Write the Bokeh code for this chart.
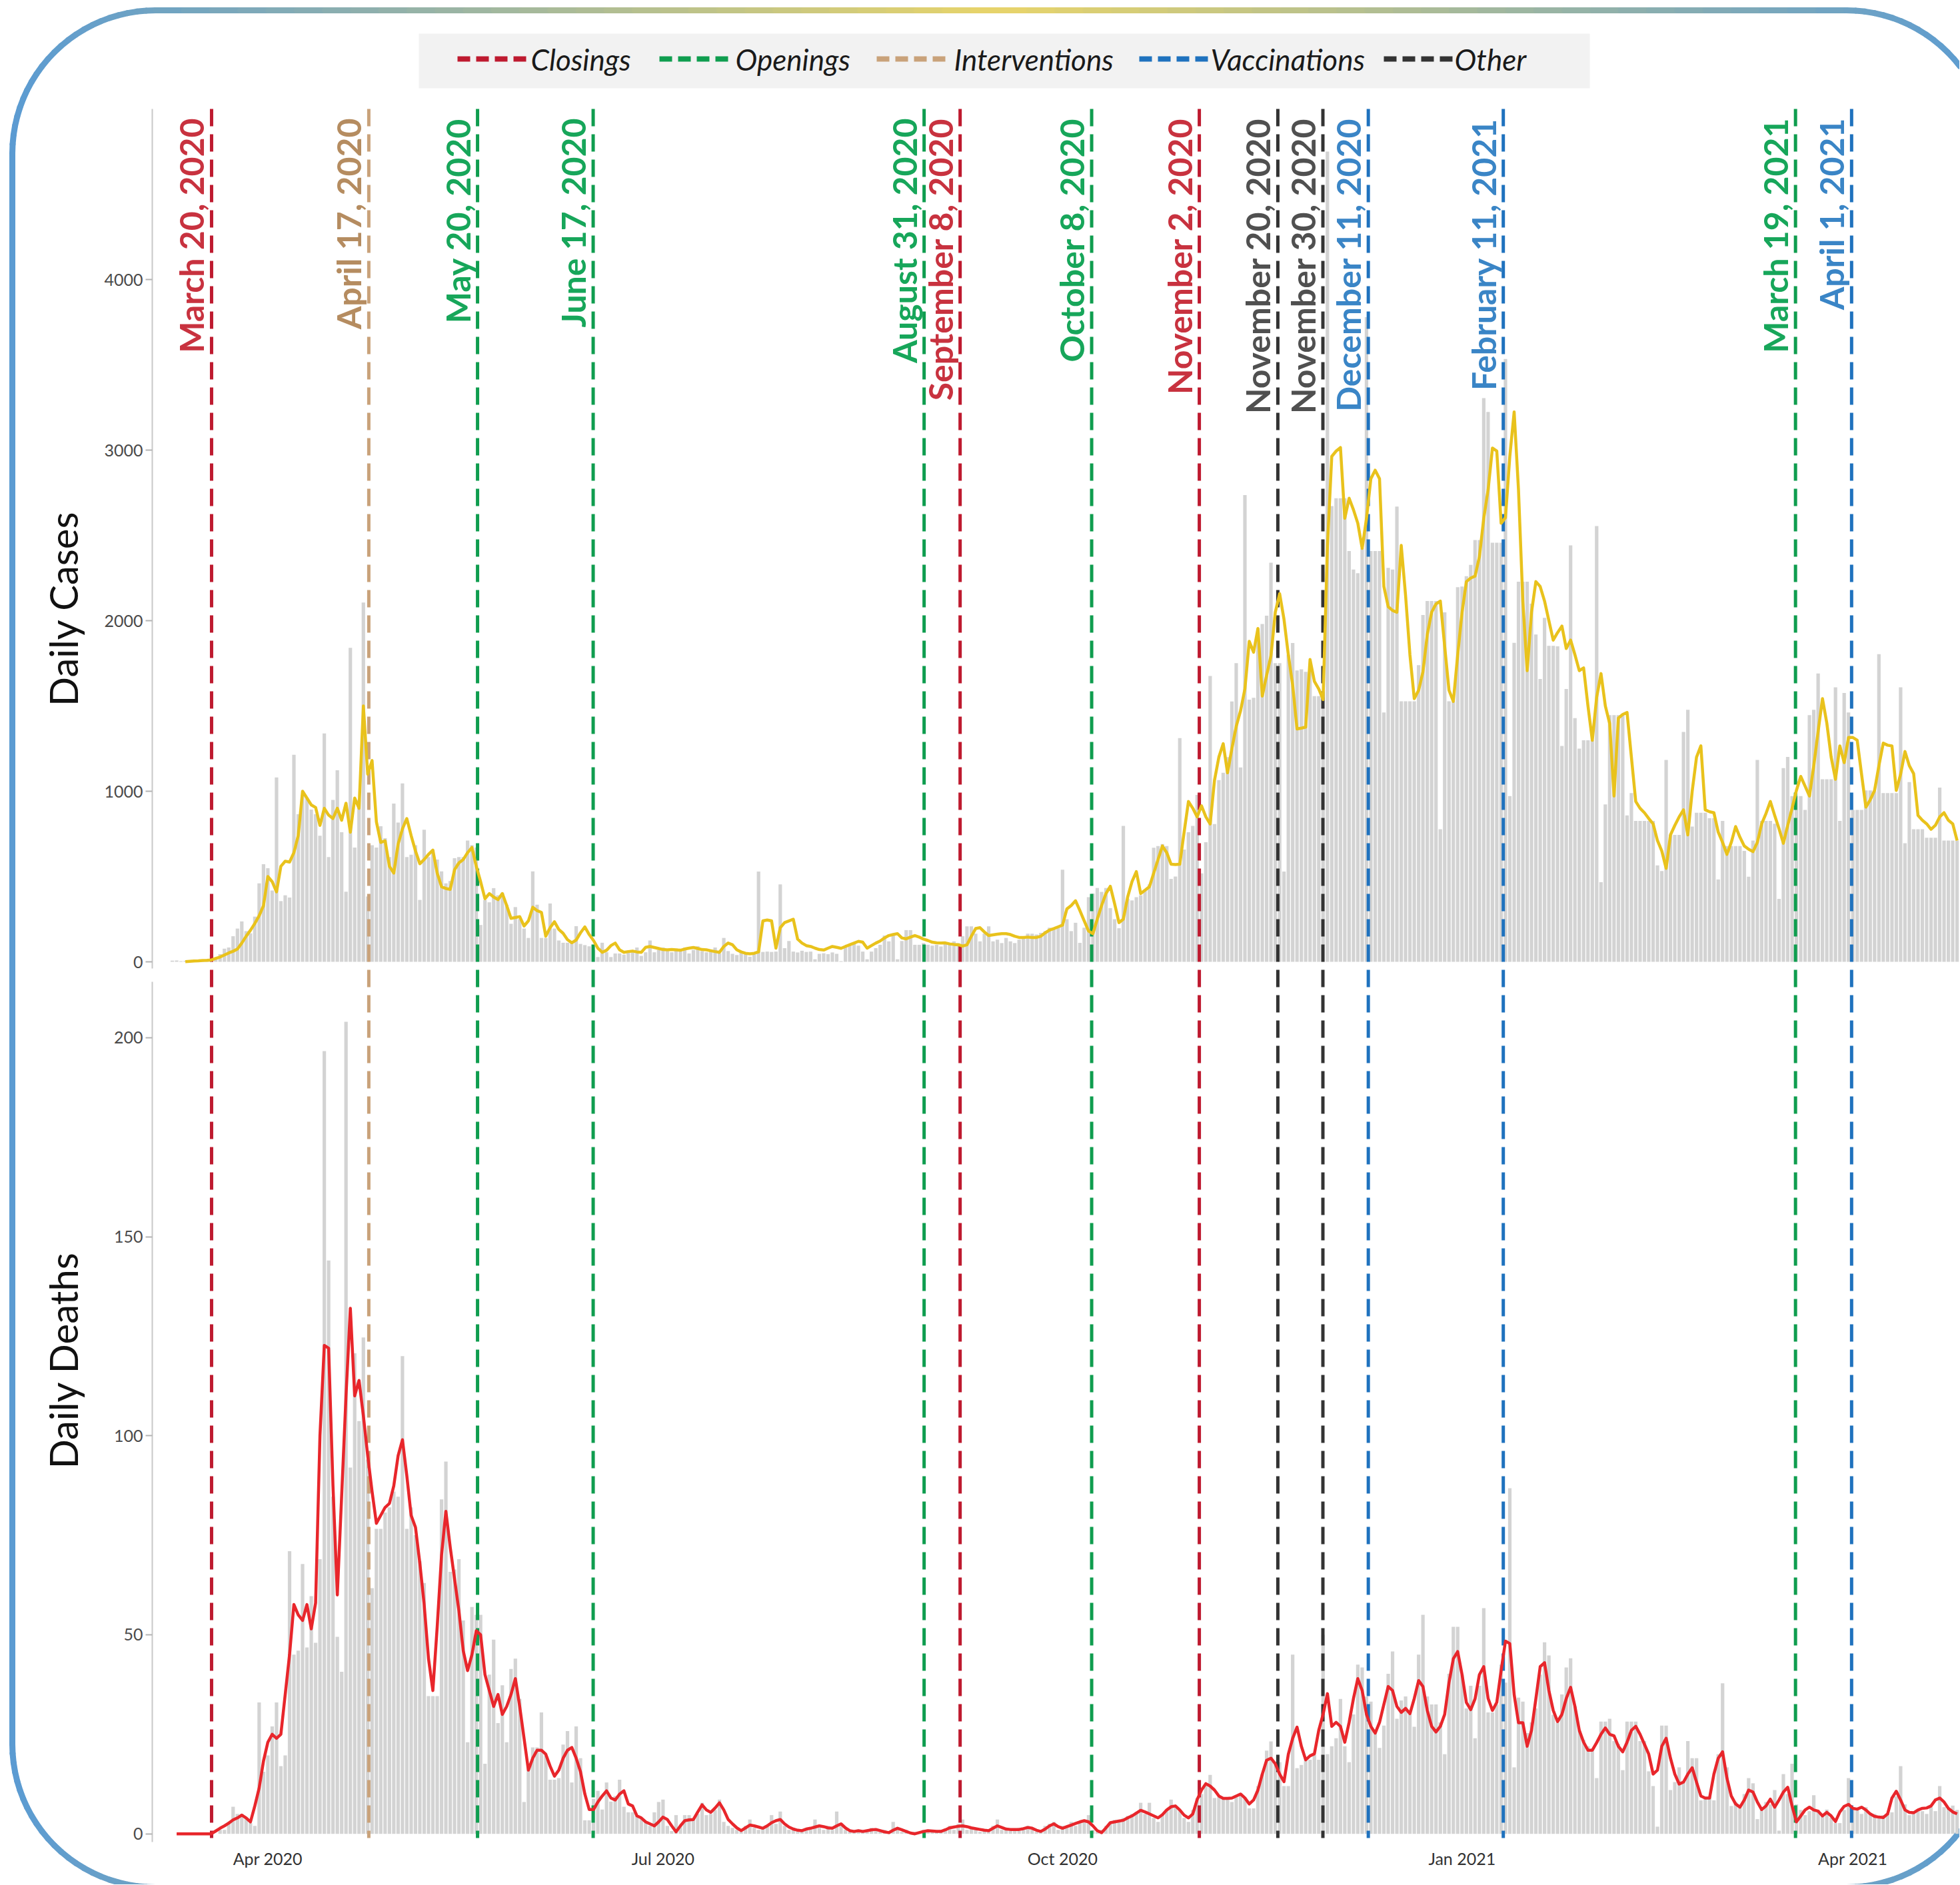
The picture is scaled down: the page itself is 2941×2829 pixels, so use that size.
import math
import pandas as pd
from bokeh.plotting import figure
from bokeh.models import (Range1d, LinearAxis, DatetimeAxis, FixedTicker,
                          DatetimeTickFormatter)
from bokeh.core.properties import value
from bokeh.embed import file_html
from bokeh.resources import INLINE

# ----------------------------------------------------------------- data
cases_start = "2020-03-10"
daily_cases = [
    7, 8, 4, 6, 10, 5, 12, 8, 15, 42,
    25, 45, 77, 84, 150, 195, 237, 180, 167, 265,
    460, 572, 549, 418, 1081, 356, 390, 377, 1214, 865,
    977, 963, 893, 865, 739, 1339, 614, 949, 1123, 760,
    411, 1841, 670, 949, 2106, 383, 684, 670, 795, 725,
    614, 928, 816, 1046, 614, 628, 684, 363, 774, 614,
    656, 600, 530, 460, 474, 607, 614, 614, 711, 684,
    670, 216, 363, 349, 432, 390, 405, 335, 223, 321,
    251, 195, 140, 530, 335, 140, 140, 342, 195, 125,
    112, 112, 112, 209, 105, 98, 91, 70, 28, 112,
    56, 28, 49, 49, 42, 63, 56, 84, 35, 56,
    125, 56, 70, 84, 63, 56, 77, 70, 84, 49,
    70, 91, 63, 56, 70, 84, 49, 140, 63, 47,
    40, 55, 47, 30, 50, 529, 58, 60, 58, 60,
    454, 80, 122, 60, 55, 65, 58, 60, 15, 47,
    50, 45, 55, 47, 4, 90, 100, 110, 95, 60,
    15, 60, 80, 100, 154, 120, 154, 15, 122, 186,
    186, 100, 100, 110, 100, 95, 100, 90, 110, 100,
    120, 110, 150, 208, 208, 165, 120, 165, 208, 120,
    130, 110, 140, 120, 110, 130, 150, 165, 165, 160,
    170, 180, 200, 200, 205, 540, 250, 180, 229, 111,
    200, 379, 400, 433, 410, 433, 315, 250, 197, 797,
    369, 360, 379, 390, 420, 454, 669, 679, 690, 679,
    486, 500, 1312, 658, 760, 797, 979, 519, 701, 1676,
    808, 1065, 1108, 1200, 1526, 1751, 1140, 2736, 1537, 1548,
    1954, 1980, 2029, 2340, 1751, 1751, 529, 1800, 1869, 1708,
    1715, 1700, 1708, 1558, 1558, 1550, 4750, 2672, 2718, 2718,
    2718, 2408, 2300, 2278, 2424, 3779, 2408, 2408, 2408, 1462,
    2310, 2300, 2669, 1527, 1527, 1527, 1527, 1739, 2033, 2115,
    2115, 2115, 777, 2049, 1527, 1527, 2196, 2200, 2261, 2327,
    2473, 2473, 3305, 3224, 2457, 2457, 2457, 3534, 972, 1870,
    2229, 2229, 2229, 2100, 1919, 1658, 2017, 1853, 1853, 1850,
    1266, 1600, 2441, 1429, 1250, 1299, 1299, 1299, 2555, 467,
    923, 1446, 1446, 1446, 1446, 858, 989, 826, 826, 826,
    826, 826, 565, 532, 1184, 744, 744, 744, 1348, 1478,
    793, 874, 874, 874, 842, 842, 483, 826, 679, 679,
    679, 679, 650, 499, 711, 1184, 826, 826, 826, 810,
    369, 1136, 1201, 972, 972, 972, 891, 1446, 1478, 1690,
    1070, 1070, 1070, 1609, 826, 1576, 1462, 891, 891, 891,
    1005, 1005, 1000, 1804, 989, 989, 989, 989, 1609, 695,
    1054, 777, 777, 777, 728, 728, 728, 1021, 711, 711,
    711, 711,
]

cases_avg_start = "2020-03-13"
cases_avg = [
    1, 3, 5, 6, 8, 9, 11,
    20, 28, 40, 52, 62, 75, 110, 150, 185, 225,
    270, 330, 500, 470, 410, 560, 590, 585, 640, 740,
    1000, 960, 920, 905, 800, 900, 860, 840, 900, 830,
    930, 760, 960, 900, 1500, 1100, 1180, 820, 700, 710,
    560, 520, 690, 780, 840, 740, 650, 575, 600, 630,
    655, 520, 440, 430, 425, 540, 580, 600, 640, 670,
    560, 470, 370, 400, 380, 365, 400, 330, 255, 260,
    265, 210, 240, 320, 300, 290, 150, 200, 235, 190,
    167, 130, 112, 128, 170, 205, 160, 125, 80, 56,
    68, 95, 110, 70, 56, 60, 63, 58, 56, 85,
    90, 84, 78, 72, 70, 72, 70, 68, 75, 80,
    84, 78, 72, 70, 65, 60, 56, 90, 110, 100,
    70, 58, 50, 47, 50, 58, 240, 245, 240, 80,
    200, 230, 240, 250, 133, 110, 95, 90, 80, 72,
    69, 80, 90, 85, 79, 90, 100, 110, 120, 115,
    80, 95, 110, 122, 140, 154, 160, 165, 140, 135,
    145, 154, 145, 133, 125, 115, 111, 110, 111, 105,
    102, 100, 92, 100, 150, 195, 200, 175, 154, 158,
    162, 165, 165, 160, 150, 143, 143, 145, 143, 143,
    150, 170, 186, 195, 205, 215, 310, 330, 358, 300,
    240, 180, 165, 250, 330, 400, 443, 340, 230, 250,
    380, 470, 529, 400, 420, 440, 520, 600, 679, 640,
    572, 570, 572, 760, 940, 900, 850, 915, 850, 808,
    1065, 1200, 1279, 1108, 1250, 1380, 1472, 1600, 1879, 1815,
    1954, 1558, 1680, 1794, 2050, 2158, 2008, 1800, 1622, 1365,
    1370, 1376, 1772, 1644, 1600, 1537, 2437, 2963, 2994, 3015,
    2600, 2718, 2650, 2571, 2424, 2600, 2832, 2882, 2832, 2200,
    2082, 2060, 2049, 2441, 2147, 1800, 1543, 1592, 1700, 1919,
    2050, 2098, 2115, 1850, 1592, 1527, 1800, 2049, 2229, 2250,
    2261, 2375, 2600, 2767, 3012, 2995, 2571, 2604, 2963, 3224,
    2767, 2115, 1707, 2049, 2229, 2200, 2115, 2000, 1886, 1930,
    1968, 1837, 1886, 1800, 1707, 1723, 1500, 1299, 1550, 1690,
    1500, 1397, 972, 1429, 1450, 1462, 1200, 940, 900, 874,
    840, 809, 711, 650, 548, 744, 800, 850, 891, 744,
    1000, 1200, 1266, 891, 880, 874, 760, 700, 630, 700,
    793, 730, 679, 660, 646, 700, 809, 870, 940, 858,
    780, 695, 800, 900, 1005, 1087, 1030, 972, 1150, 1350,
    1543, 1400, 1200, 1070, 1266, 1168, 1315, 1315, 1299, 1100,
    907, 950, 1005, 1150, 1282, 1270, 1266, 1005, 1100, 1233,
    1150, 1103, 858, 830, 809, 777, 800, 850, 874, 830,
    809, 711,
]

deaths_start = "2020-03-10"
daily_deaths = [
    0, 0, 0, 0, 0, 0, 0, 0, 0, 0,
    0, 1, 1, 3, 6.8, 5, 5, 4, 2.7, 2,
    33, 15.6, 19.7, 27, 33, 17, 19.7, 71, 45, 46,
    67.8, 46.8, 59.7, 48, 69, 196.6, 144, 84.7, 49.5, 40.7,
    204, 92, 120.7, 103.7, 124.7, 94, 61.7, 76.6, 76.6, 80.7,
    82, 86, 84.7, 120, 76.6, 82, 75, 68.5, 63, 34.6,
    34.6, 34.6, 84, 93.5, 65.8, 66.4, 69, 53.6, 23, 57,
    55, 55, 17.6, 40, 48.8, 27.8, 37.3, 23, 41.4, 44,
    33.9, 8, 17.6, 21.7, 21.7, 30.5, 19.7, 13.6, 13.6, 14,
    22.4, 25.8, 12.9, 27, 19, 3.4, 3.4, 8.8, 10.8, 6.1,
    12.9, 8.1, 9.5, 13.6, 6.8, 5.4, 5.4, 4.7, 4, 2.7,
    2, 5.4, 8, 8.6, 2, 0.7, 4.7, 2, 4.7, 4.7,
    3.6, 5, 7.8, 4.7, 5, 6, 8.6, 3, 2, 1.5,
    1, 0.5, 2, 3.6, 1.5, 1, 1.5, 2, 4.7, 2.5,
    5.6, 2, 1, 1.5, 0.5, 1, 1.5, 1, 3.6, 1.5,
    1, 2, 1, 5.6, 2, 1, 0.5, 1, 0.5, 1,
    0.5, 1.5, 1, 0.5, 1, 0.5, 3, 1, 0.5, 1,
    0, 0.5, 0, 1, 0.5, 1, 0.5, 1, 1, 2,
    1, 2.5, 3.6, 1, 1.5, 1, 0.5, 1, 0.5, 2,
    3.6, 1, 1.5, 1, 1, 1.5, 1, 2, 1, 0.5,
    1, 2, 2.5, 3, 1, 2, 2, 3, 2, 3,
    3, 4.7, 1, 0.5, 1, 2, 3, 3.5, 3, 4,
    4.5, 5, 5.5, 7.8, 5, 7.8, 4, 3, 5, 6,
    8.6, 7, 6, 4, 3, 6, 9, 10, 12, 14.8,
    9, 9.2, 9, 9.2, 8, 9.2, 10, 9, 6.4, 6.4,
    12, 15, 20.9, 23.2, 18, 18, 12, 12, 45, 16.5,
    17.3, 18.7, 18.6, 19.8, 18.6, 50, 20, 22, 24, 33.9,
    22, 18, 30, 42.5, 41.8, 34.5, 33.2, 26, 21.6, 27.2,
    40.2, 45.8, 28.9, 33.5, 34.5, 30, 26.9, 45, 55, 34.5,
    32.5, 32.5, 28, 20, 40.2, 52, 52, 40, 31.5, 37.2,
    24, 37.2, 56.7, 30.5, 30.5, 32.5, 42.5, 38, 86.8, 16.7,
    34.2, 33.2, 25.3, 28, 31.5, 40, 48.1, 44.8, 29.9, 27.9,
    35, 41.8, 44.1, 32, 25.9, 23.6, 22, 21, 14, 28.2,
    28.2, 28.9, 23.3, 22.6, 16, 28.2, 28.2, 28.2, 23.3, 23.3,
    15.7, 12, 1.8, 27.2, 27.2, 11, 13, 16.7, 13, 23.3,
    19, 19, 8.4, 9, 9.4, 8.4, 20, 37.8, 16.7, 7,
    8, 6.7, 10, 14, 12.7, 3.7, 6, 8, 7.4, 11,
    0.8, 15, 10, 17.6, 7.4, 6, 4.7, 5.7, 9.7, 6,
    4.4, 6.1, 4.1, 2.7, 2.7, 6, 14, 6.7, 6.1, 5,
    6.7, 5, 5, 4.1, 4.7, 5, 5.4, 9.4, 17, 7.4,
    4.7, 5, 6.1, 5.7, 5, 6.7, 5.7, 12, 6.7, 6.4,
    7.1, 6,
]

deaths_avg_start = "2020-03-11"
deaths_avg = [
    0, 0, 0, 0, 0, 0, 0, 0, 0,
    0.7, 1.4, 2.0, 2.7, 3.5, 4.0, 4.7, 4.0, 3.0, 7.0,
    11.5, 18.3, 23, 25, 24, 25, 35, 45, 57.6, 55,
    53.6, 57.6, 51.5, 58, 100, 122.7, 122, 87.4, 60, 85,
    110, 132, 110, 113.9, 105, 95, 86, 78, 80, 82,
    83, 87.4, 95, 99, 90, 80, 77, 68, 57.6, 44,
    36, 52, 70, 81, 72, 64, 56, 46, 41, 45,
    51, 50, 40, 36, 32, 35, 30, 32, 35, 39,
    32, 24, 16, 19, 21, 21, 20, 17, 14.5, 16,
    19, 21, 21.7, 19, 15.6, 10, 6.1, 6.1, 8, 9.5,
    10.8, 9, 8.5, 10, 10.8, 7.5, 7, 4.5, 4, 3,
    2.5, 2, 3, 4.2, 3.6, 2, 0.5, 2, 3.3, 3.5,
    3.6, 5.5, 7.3, 6, 5.4, 6.5, 7.8, 6, 3.6, 2.5,
    1.5, 0.8, 1.5, 2.2, 2, 1.7, 1.4, 2, 2.8, 3.3,
    3.6, 2.5, 1.7, 1.2, 0.9, 0.8, 1.2, 1.4, 1.7, 2,
    1.8, 1.5, 1.4, 2, 2.5, 1.5, 0.8, 0.6, 0.8, 0.6,
    0.8, 1, 1.1, 0.8, 0.5, 0.3, 0.9, 1.4, 1, 0.6,
    0.2, 0, 0.3, 0.6, 0.8, 0.7, 0.6, 0.6, 1, 1.5,
    1.7, 1.9, 2, 1.8, 1.5, 1.3, 1.1, 0.9, 0.8, 1.4,
    2, 1.6, 1.2, 1.1, 1.1, 1.1, 1.3, 1.6, 1.4, 0.9,
    0.6, 1.2, 2, 2.5, 1.8, 1.4, 1.8, 2.2, 2.6, 3,
    3.3, 3, 2, 0.8, 0.3, 1.5, 2.8, 3, 3.2, 3.4,
    4, 4.5, 5.2, 5.9, 5.5, 5, 4.5, 4, 4.8, 6,
    6.8, 7, 6, 4.7, 4, 5, 8.6, 11, 12.6, 12,
    11, 9.5, 8.9, 8.9, 9, 9.5, 10, 9, 7.5, 8.5,
    11, 15, 18.5, 19, 17.6, 15, 13.1, 20, 24, 26.8,
    22, 18.6, 19.6, 20.1, 26, 30, 35.2, 27, 28, 27,
    23, 28, 34, 39, 36, 30, 27, 25.3, 28, 32.5,
    37, 36, 32, 30.5, 31.5, 30.2, 34, 38.5, 37, 31,
    27, 25.6, 27, 30, 38, 44, 45.8, 40, 33, 31.2,
    33.9, 40, 42, 34, 31, 33, 41, 48.4, 47.8, 35,
    27.9, 27.9, 22, 26, 33.9, 42, 43, 36, 31, 28.2,
    30, 34, 36.8, 32, 26, 23, 21, 21, 22.9, 25,
    26.6, 25, 24.6, 22, 20.6, 23, 26, 27, 25, 22.5,
    20, 15, 16, 22, 24, 19, 15, 12.5, 13, 15,
    16.6, 13, 9.5, 9, 9, 15, 19, 20.6, 14, 9.5,
    7.5, 6.7, 8.5, 11, 10.5, 8, 6.1, 7, 8.7, 6.7,
    8.5, 10.5, 11.7, 7, 3, 4.5, 6, 6.7, 6, 5.7,
    4.5, 5.4, 4.5, 3.1, 5.5, 6.9, 7.4, 6.4, 6.2, 6.7,
    6, 5, 4.4, 4.2, 4.1, 5, 9, 10.7, 8.5, 6,
    5.4, 5.3, 6, 6.4, 6.5, 7, 8.5, 9, 8, 6.4,
    5.5, 5,
]

event_labels = ["March 20, 2020", "April 17, 2020", "May 20, 2020", "June 17, 2020",
                "August 31, 2020", "September 8, 2020", "October 8, 2020",
                "November 2, 2020", "November 20, 2020", "November 30, 2020",
                "December 11, 2020", "February 11, 2021", "March 19, 2021",
                "April 1, 2021"]
event_kinds = ["Closings", "Interventions", "Openings", "Openings",
               "Openings", "Closings", "Openings",
               "Closings", "Other", "Other",
               "Vaccinations", "Vaccinations", "Openings",
               "Vaccinations"]
# where each dashed line sits on the time axis in the picture
event_positions = ["2020-03-19 01:00", "2020-04-24 06:00", "2020-05-19 07:00",
                   "2020-06-14 22:00", "2020-08-30 03:00", "2020-09-07 10:00",
                   "2020-10-07 17:00", "2020-11-01 12:00", "2020-11-19 14:00",
                   "2020-11-29 23:00", "2020-12-10 10:00", "2021-01-10 12:00",
                   "2021-03-18 19:00", "2021-03-31 17:00"]

legend_kinds = ["Closings", "Openings", "Interventions", "Vaccinations", "Other"]
cases_ticks = [0, 1000, 2000, 3000, 4000]
deaths_ticks = [0, 50, 100, 150, 200]
date_ticks = ["2020-04-01", "2020-07-01", "2020-10-01", "2021-01-01", "2021-04-01"]

# ----------------------------------------------------------------- styles
line_colors = {"Closings": "#BE1A2F", "Openings": "#0F9D4F", "Interventions": "#C9A27A",
               "Vaccinations": "#1F72BE", "Other": "#333333"}
label_colors = {"Closings": "#C8323F", "Openings": "#17A65A", "Interventions": "#B58C60",
                "Vaccinations": "#3A85C6", "Other": "#505050"}
BAR_COLOR = "#D3D3D3"
CASES_LINE = "#E9C21C"
DEATHS_LINE = "#E8262B"

# ----------------------------------------------------------------- layout
W, H = 2940, 2828            # the page has no margin: figure sits at (0, 0)
T0 = pd.Timestamp("2020-04-01").value / 1e6
DAY = 86400000.0
X0_PX, PX_PER_DAY = 401.4, 6.516


def xr(px):          # page pixel x -> time (ms)
    return T0 + (px - X0_PX) / PX_PER_DAY * DAY


def yr(py):          # page pixel y -> layout y (bottom-up)
    return H - py


CASES_ZERO, CASES_PX = 1443.0, 0.256
DEATHS_ZERO, DEATHS_PX = 2751.7, 5.9745

p = figure(width=W, height=H, x_range=Range1d(xr(0), xr(W)),
           y_range=Range1d(0, H), x_axis_location=None, y_axis_location=None,
           toolbar_location=None, output_backend="svg", min_border=0,
           outline_line_color=None, background_fill_color="white",
           border_fill_color="white")
p.xgrid.visible = False
p.ygrid.visible = False
p.extra_y_ranges = {
    "cases": Range1d((CASES_ZERO - H) / CASES_PX, CASES_ZERO / CASES_PX),
    "deaths": Range1d((DEATHS_ZERO - H) / DEATHS_PX, DEATHS_ZERO / DEATHS_PX),
}

# ---- rounded frame with a horizontal blue-yellow-blue gradient
BL, BT, BR, BB, RAD = 18.0, 15.0, 2985.0, 2832.0, 215.0
pts = []


def arc(cx, cy, a0, a1, n=24):
    for k in range(n + 1):
        a = math.radians(a0 + (a1 - a0) * k / n)
        pts.append((cx + RAD * math.cos(a), cy + RAD * math.sin(a)))


def straight(x0, y0, x1, y1, n):
    for k in range(n + 1):
        pts.append((x0 + (x1 - x0) * k / n, y0 + (y1 - y0) * k / n))


straight(BL, BB - RAD, BL, BT + RAD, 1)
arc(BL + RAD, BT + RAD, 180, 270)
straight(BL + RAD, BT, BR - RAD, BT, 60)
arc(BR - RAD, BT + RAD, 270, 360)
straight(BR, BT + RAD, BR, BB - RAD, 1)
arc(BR - RAD, BB - RAD, 0, 90)
straight(BR - RAD, BB, BL + RAD, BB, 60)
arc(BL + RAD, BB - RAD, 90, 180)

blue = (91, 155, 210)
yellow = (232, 212, 106)
bx0, by0, bx1, by1, bcol = [], [], [], [], []
for (ax_, ay_), (bx_, by_) in zip(pts[:-1], pts[1:]):
    if max(ax_, bx_) > W + 4:
        continue          # part of the frame that lies outside the picture
    mx = (ax_ + bx_) / 2
    t = max(0.0, 1 - abs(mx - 1500) / 1482)
    c = tuple(int(round(blue[i] * (1 - t) + yellow[i] * t)) for i in range(3))
    bx0.append(xr(ax_)); by0.append(yr(ay_)); bx1.append(xr(bx_)); by1.append(yr(by_))
    bcol.append("#%02x%02x%02x" % c)
p.segment(x0=bx0, y0=by0, x1=bx1, y1=by1, line_color=bcol, line_width=9, line_cap="round")

# ---- legend
LEG_Y = 88
p.quad(left=[xr(628)], right=[xr(2385)], top=[yr(50)], bottom=[yr(132)],
       fill_color="#F2F2F2", line_color=None)
leg_sample_x = [686, 989, 1315, 1709, 2076]
leg_text_x = [796, 1103, 1431, 1816, 2182]
p.segment(x0=[xr(v) for v in leg_sample_x], x1=[xr(v + 104) for v in leg_sample_x],
          y0=[yr(LEG_Y)] * 5, y1=[yr(LEG_Y)] * 5,
          line_color=[line_colors[k] for k in legend_kinds], line_width=8, line_dash="19 9")
p.text(x=[xr(v) for v in leg_text_x], y=[yr(LEG_Y)] * 5, text=legend_kinds,
       text_font=value("Lato"), text_font_style="italic", text_font_size="44px",
       text_color="#1A1A1A", text_align="left", text_baseline="middle")

# ---- bars
cases_dates = pd.date_range(cases_start, periods=len(daily_cases), freq="D")
deaths_dates = pd.date_range(deaths_start, periods=len(daily_deaths), freq="D")
p.vbar(x=cases_dates, top=daily_cases, bottom=0, width=0.8 * DAY,
       y_range_name="cases", fill_color=BAR_COLOR, line_color=None)
p.vbar(x=deaths_dates, top=daily_deaths, bottom=0, width=0.8 * DAY,
       y_range_name="deaths", fill_color=BAR_COLOR, line_color=None)

# ---- event lines and labels
ev_x = [pd.Timestamp(s).value / 1e6 for s in event_positions]
LABEL_GAP = 30 / PX_PER_DAY * DAY      # labels sit just left of their line
p.segment(x0=ev_x, x1=ev_x, y0=[yr(163)] * len(ev_x), y1=[yr(2758)] * len(ev_x),
          line_color=[line_colors[k] for k in event_kinds], line_width=5, line_dash="26 12")
p.text(x=[v - LABEL_GAP for v in ev_x], y=[yr(177)] * len(ev_x), text=event_labels,
       angle=math.pi / 2, text_align="right", text_baseline="alphabetic",
       text_font=value("Lato"), text_font_style="bold", text_font_size="50px",
       text_color=[label_colors[k] for k in event_kinds])

# ---- series lines
p.line(x=pd.date_range(cases_avg_start, periods=len(cases_avg), freq="D"), y=cases_avg,
       y_range_name="cases", line_color=CASES_LINE, line_width=4.5, line_join="round")
p.line(x=pd.date_range(deaths_avg_start, periods=len(deaths_avg), freq="D"), y=deaths_avg,
       y_range_name="deaths", line_color=DEATHS_LINE, line_width=4.5, line_join="round")


# ---- axes
def style_axis(ax):
    ax.axis_line_color = "#C8C8C8"
    ax.axis_line_width = 2
    ax.major_tick_line_color = "#B4B4B4"
    ax.major_tick_line_width = 2
    ax.major_tick_out = 10
    ax.major_tick_in = 0
    ax.minor_tick_line_color = None
    ax.major_label_text_font = "Lato"
    ax.major_label_text_font_size = "25px"
    ax.major_label_text_color = "#4A4A4A"
    ax.major_label_standoff = 4


AXIS_X = xr(228)
ax_c = LinearAxis(y_range_name="cases", fixed_location=AXIS_X, bounds=(-40, 5000),
                  ticker=FixedTicker(ticks=cases_ticks))
style_axis(ax_c)
p.add_layout(ax_c, "left")
ax_d = LinearAxis(y_range_name="deaths", fixed_location=AXIS_X, bounds=(-2, 214),
                  ticker=FixedTicker(ticks=deaths_ticks))
style_axis(ax_d)
p.add_layout(ax_d, "left")

fmt = "%b %Y"
ax_x = DatetimeAxis(fixed_location=yr(2762),
                    ticker=FixedTicker(ticks=[pd.Timestamp(s).value / 1e6 for s in date_ticks]),
                    formatter=DatetimeTickFormatter(days=fmt, months=fmt, years=fmt,
                                                    hours=fmt, hourmin=fmt))
ax_x.axis_line_color = None
ax_x.major_tick_line_color = None
ax_x.minor_tick_line_color = None
ax_x.major_label_text_font = "Lato"
ax_x.major_label_text_font_size = "25px"
ax_x.major_label_text_color = "#333333"
ax_x.major_label_standoff = 5
p.add_layout(ax_x, "below")

# ---- y titles
p.text(x=[xr(94), xr(94)], y=[yr(913), yr(2041)], text=["Daily Cases", "Daily Deaths"],
       angle=math.pi / 2, text_align="center", text_baseline="middle",
       text_font=value("Lato"), text_font_size="58px", text_color="#111111")

open("out.html", "w").write(file_html(p, INLINE))
